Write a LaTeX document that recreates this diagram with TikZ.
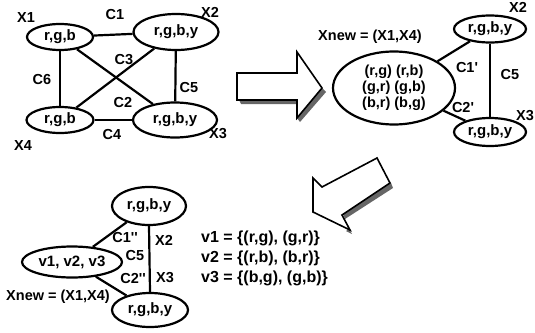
\documentclass[tikz,border=0pt]{standalone}
\usepackage{fontspec}
\setmainfont{Liberation Sans}
\usetikzlibrary{shapes.geometric}
\begin{document}
\begin{tikzpicture}[x=1pt,y=-1pt,
  vert/.style={ellipse,draw,line width=2.2pt,inner sep=0pt,font=\fontsize{15}{16}\selectfont\bfseries},
  lab/.style={font=\fontsize{14.5}{15}\selectfont\bfseries,inner sep=0pt},
  edge/.style={line width=2.2pt},
  blockarrow/.style={draw,line width=1.6pt,fill=white,line join=miter},
  shadowband/.style={fill=black!60}]
\useasboundingbox (0,0) rectangle (535,332);
% ---------- top-left graph ----------
\node[vert,minimum width=66pt,minimum height=26pt] (a1) at (60,37) {r,g,b};
\node[vert,minimum width=85pt,minimum height=36pt] (a2) at (176,32) {r,g,b,y};
\node[vert,minimum width=67pt,minimum height=26pt] (a4) at (60,120) {r,g,b};
\node[vert,minimum width=84pt,minimum height=35pt] (a3) at (175,120) {r,g,b,y};
\draw[edge] (a1) -- (a2);
\draw[edge] (a1) -- (a4);
\draw[edge] (a2) -- (a3);
\draw[edge] (a4) -- (a3);
\draw[edge] (a1) -- (a3);
\draw[edge] (a2) -- (a4);
\node[lab] (lx1) at (26,18) {X1};
\node[lab] (lc1) at (115,15) {C1};
\node[lab] (lx2) at (210,12) {X2};
\node[lab] (lc3) at (124,60) {C3};
\node[lab] (lc6) at (42,80) {C6};
\node[lab] (lc5) at (189,88) {C5};
\node[lab] (lc2) at (123,103) {C2};
\node[lab] (lc4) at (112,135) {C4};
\node[lab] (lx4) at (23,146) {X4};
\node[lab] (lx3) at (218,134) {X3};
% ---------- arrow 1 ----------
\fill[shadowband] (239,100) -- (297,100) -- (297,104) -- (241,104) -- cycle;
\fill[shadowband] (297,118) -- (322,88) -- (326,92) -- (300,122) -- cycle;
\draw[blockarrow] (237,73) -- (297,73) -- (297,52) -- (322,88) -- (297,118) -- (297,100) -- (237,100) -- cycle;
% ---------- middle graph ----------
\node[lab] (lxn1) at (370,37) {Xnew = (X1,X4)};
\node[vert,minimum width=122pt,minimum height=73pt,align=center,font=\fontsize{14.5}{16}\selectfont\bfseries] (b) at (394,88) {(r,g) (r,b)\\(g,r) (g,b)\\(b,r) (b,g)};
\node[vert,minimum width=72pt,minimum height=27pt] (b2) at (490,29) {r,g,b,y};
\node[vert,minimum width=72pt,minimum height=28pt] (b3) at (490,132) {r,g,b,y};
\draw[edge] (b) -- (b2);
\draw[edge] (b) -- (b3);
\draw[edge] (b2) -- (b3);
\node[lab] (lc1p) at (467,68) {C1\textquotesingle};
\node[lab] (lc5b) at (510,75) {C5};
\node[lab] (lc2p) at (463,108) {C2\textquotesingle};
\node[lab] (lx2b) at (518,7) {X2};
\node[lab] (lx3b) at (525,116) {X3};
% ---------- arrow 2 ----------
\fill[shadowband] (391,183) -- (343,214) -- (345,219) -- (393,188) -- cycle;
\fill[shadowband] (349,229) -- (352,234) -- (346,231) -- cycle;
\draw[blockarrow] (313,178) -- (322,187) -- (377,158) -- (390,183) -- (342,215) -- (350,230) -- (313,212) -- cycle;
% ---------- bottom graph ----------
\node[vert,minimum width=74pt,minimum height=38pt] (c1) at (149,206) {r,g,b,y};
\node[vert,minimum width=100pt,minimum height=31pt] (cv) at (72,262) {v1, v2, v3};
\node[vert,minimum width=76pt,minimum height=34pt] (c3) at (150,310) {r,g,b,y};
\draw[edge] (c1) -- (cv);
\draw[edge] (cv) -- (c3);
\draw[edge] (c1.south) -- (c3.north);
\node[lab] (lc1pp) at (125,238) {C1\textquotesingle\textquotesingle};
\node[lab] (lx2c) at (164,240) {X2};
\node[lab] (lc5c) at (135,256) {C5};
\node[lab] (lc2pp) at (133,279) {C2\textquotesingle\textquotesingle};
\node[lab] (lx3c) at (165,278) {X3};
\node[lab] (lxn2) at (58,297) {Xnew = (X1,X4)};
\node[lab,anchor=west,align=left,font=\fontsize{16}{20}\selectfont\bfseries] (vdef) at (201,258)
  {v1 = \{(r,g), (g,r)\}\\v2 = \{(r,b), (b,r)\}\\v3 = \{(b,g), (g,b)\}};
\end{tikzpicture}
\end{document}
